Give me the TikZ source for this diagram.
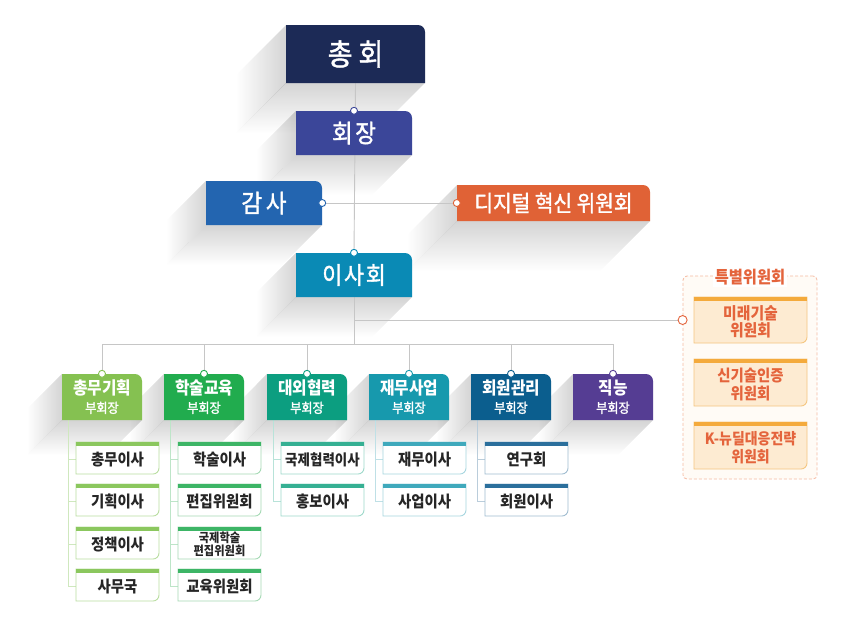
\documentclass[tikz,border=0pt]{standalone}
\usepackage{fontspec}
\newfontfamily\kr[FakeStretch=0.9]{Noto Sans CJK KR}
\newfontfamily\krm[FakeStretch=0.9, FakeBold=1.5]{Noto Sans CJK KR}
\usetikzlibrary{fadings}
\tikzfading[name=fadeS, top color=transparent!0, bottom color=transparent!100]
\tikzfading[name=fadeW, left color=transparent!100, right color=transparent!0]
\pgfdeclarelayer{back}\pgfdeclarelayer{shadow}\pgfdeclarelayer{lines}
\pgfsetlayers{back,shadow,lines,main}
\definecolor{cNavy}{HTML}{1C2A56}
\definecolor{cHj}{HTML}{3B4699}
\definecolor{cGs}{HTML}{2365B0}
\definecolor{cDt}{HTML}{E06236}
\definecolor{cIs}{HTML}{0A8AB5}
\definecolor{cG1}{HTML}{85C151}
\definecolor{cG2}{HTML}{21AC4E}
\definecolor{cG3}{HTML}{0C9E80}
\definecolor{cG4}{HTML}{1799AD}
\definecolor{cG5}{HTML}{0B5E8E}
\definecolor{cG6}{HTML}{553D93}
\definecolor{tG1}{HTML}{8BC75E}
\definecolor{tG2}{HTML}{3DB566}
\definecolor{tG3}{HTML}{35B093}
\definecolor{tG4}{HTML}{3FA9BC}
\definecolor{tG5}{HTML}{2B6F9C}
\definecolor{bG1}{HTML}{B9DDA0}
\definecolor{bG2}{HTML}{A5DAB5}
\definecolor{bG3}{HTML}{9ED9CB}
\definecolor{bG4}{HTML}{A6D6DF}
\definecolor{bG5}{HTML}{9FBCD0}
\definecolor{lG1}{HTML}{CFE8BE}
\definecolor{lG2}{HTML}{BDE5C8}
\definecolor{lG3}{HTML}{B8E3D9}
\definecolor{lG4}{HTML}{BFE0E6}
\definecolor{lG5}{HTML}{BACDDB}
\definecolor{cLine}{HTML}{C6C6C6}
\definecolor{spOrange}{HTML}{E4643C}
\definecolor{spFill}{HTML}{FDEBD2}
\definecolor{spBar}{HTML}{F4AA3C}
\definecolor{spBorder}{HTML}{F5C680}
\definecolor{spDash}{HTML}{F6BBA3}
\definecolor{spBg}{HTML}{FFFBF6}
\tikzset{
  conn/.style={draw=cLine, line width=0.9pt},
  dotmark/.style={fill=white, draw=#1, line width=0.9pt},
  subtext/.style={font=\kr\bfseries\fontsize{16}{17}\selectfont, text=black!85},
}
\newcommand\orgbox[9]{%
  \begin{pgfonlayer}{shadow}
    \fill[black, opacity=0.17, path fading=fadeW] (#3,-#4) -- (#3,-#6) -- (#3-#7,-#6-#7) -- (#3-#7,-#4-#7) -- cycle;
    \fill[black, opacity=0.17, path fading=fadeS] (#3,-#6) -- (#5,-#6) -- (#5-#7,-#6-#7) -- (#3-#7,-#6-#7) -- cycle;
  \end{pgfonlayer}
  \fill[#2] (#3,-#6) -- (#3,-#4) -- (#5-7,-#4) arc[start angle=90, end angle=0, radius=7] -- (#5,-#6) -- cycle;
  \node[font=#8, text=white, align=center, inner sep=0pt,
        minimum width={(#5-#3)*1pt}, minimum height={(#6-#4)*1pt}] (#1) at ({(#3+#5)/2},{-(#4+#6)/2}) {#9};
}
\newcommand\subbox[7]{%
  \filldraw[fill=white, draw=#3, line width=0.9pt] (#4,-#5) -- (#4+83,-#5) -- (#4+83,-#5-26) arc[start angle=0, end angle=-90, radius=6] -- (#4,-#5-32) -- cycle;
  \fill[#2] (#4-0.45,-#5+0.45) rectangle (#4+83.45,-#5-3.5);
  \node[#6, align=center, inner sep=0pt, minimum width=83pt, minimum height=30pt] (#1) at (#4+41.5,-#5-17.5) {#7};
}
\newcommand\spbox[5]{%
  \filldraw[fill=spFill, draw=spBorder, line width=0.9pt] (694,-#2) -- (807,-#2) -- (807,-#3+6) arc[start angle=0, end angle=-90, radius=6] -- (694,-#3) -- cycle;
  \fill[spBar] (693.55,-#2+0.45) rectangle (807.45,-#2-4);
  \node[font=\kr\bfseries\fontsize{#4}{17.5}\selectfont, text=spOrange, align=center, inner sep=0pt,
        minimum width=113pt, minimum height={(#3-#2-4)*1pt}] (#1) at (750.5,{-(#2+#3+4)/2}) {#5};
}
\begin{document}
\begin{tikzpicture}[x=1pt, y=1pt]
\begin{pgfonlayer}{back}
  \fill[white] (0,0) rectangle (850,-630);
\end{pgfonlayer}
\useasboundingbox (0,0) rectangle (850,-630);

% special committee frame
\node[draw=spDash, dashed, dash pattern=on 3pt off 2pt, fill=spBg, rounded corners=4pt, line width=0.8pt,
      minimum width=134pt, minimum height=203pt, inner sep=0pt] (sp) at (750,-377.5) {};
\node[fill=white, inner sep=2pt, text=spOrange, font=\kr\bfseries\fontsize{17}{18}\selectfont] (spt) at (750,-277) {특별위원회};
\spbox{sp1}{297}{343}{16.5}{미래기술\\위원회}
\spbox{sp2}{359}{406}{16}{신기술인증\\위원회}
\spbox{sp3}{422}{469}{15.5}{K-뉴딜대응전략\\위원회}

% top boxes
\orgbox{zh}{cNavy}{286}{25}{425}{83}{50}{\krm\fontsize{30}{31}\selectfont}{총\hspace{.2em}회}
\orgbox{hj}{cHj}{296}{111}{412}{155}{40}{\krm\fontsize{25}{27}\selectfont}{회\hspace{.1em}장}
\orgbox{gs}{cGs}{206}{181}{322}{225}{40}{\krm\fontsize{25}{27}\selectfont}{감\hspace{.15em}사}
\orgbox{dt}{cDt}{457}{185}{650}{221}{50}{\krm\fontsize{22.5}{24}\selectfont}{디지털 혁신 위원회}
\orgbox{ish}{cIs}{296}{253}{412}{297}{40}{\krm\fontsize{24}{26}\selectfont}{이\hspace{.08em}사\hspace{.08em}회}

% group boxes
\newcommand\gfont{\kr\bfseries\fontsize{17.5}{18}\selectfont}
\newcommand\vp{{\krm\mdseries\fontsize{13.5}{14}\selectfont 부회장}}
\orgbox{g1}{cG1}{62}{374}{142}{420}{35}{\gfont}{총무기획\\\vp}
\orgbox{g2}{cG2}{164}{374}{244}{420}{35}{\gfont}{학술교육\\\vp}
\orgbox{g3}{cG3}{267}{374}{347}{420}{35}{\gfont}{대외협력\\\vp}
\orgbox{g4}{cG4}{369}{374}{449}{420}{35}{\gfont}{재무사업\\\vp}
\orgbox{g5}{cG5}{471}{374}{551}{420}{35}{\gfont}{회원관리\\\vp}
\orgbox{g6}{cG6}{573}{374}{653}{420}{35}{\gfont}{직능\\\vp}

% sub boxes
\subbox{s11}{tG1}{bG1}{76}{442}{subtext}{총무이사}
\subbox{s12}{tG1}{bG1}{76}{484}{subtext}{기획이사}
\subbox{s13}{tG1}{bG1}{76}{527}{subtext}{정책이사}
\subbox{s14}{tG1}{bG1}{76}{569}{subtext}{사무국}
\subbox{s21}{tG2}{bG2}{178}{442}{subtext}{학술이사}
\subbox{s22}{tG2}{bG2}{178}{484}{subtext}{편집위원회}
\subbox{s23}{tG2}{bG2}{178}{527}{font=\kr\bfseries\fontsize{12.5}{12.5}\selectfont, text=black!85}{국제학술\\편집위원회}
\subbox{s24}{tG2}{bG2}{178}{569}{subtext}{교육위원회}
\subbox{s31}{tG3}{bG3}{281}{442}{font=\kr\bfseries\fontsize{15}{17}\selectfont, text=black!85}{국제협력이사}
\subbox{s32}{tG3}{bG3}{281}{484}{subtext}{홍보이사}
\subbox{s41}{tG4}{bG4}{383}{442}{subtext}{재무이사}
\subbox{s42}{tG4}{bG4}{383}{484}{subtext}{사업이사}
\subbox{s51}{tG5}{bG5}{485}{442}{subtext}{연구회}
\subbox{s52}{tG5}{bG5}{485}{484}{subtext}{회원이사}

% connectors
\coordinate (j1) at (354,-320);
\coordinate (j2) at (354,-344);
\begin{pgfonlayer}{lines}
  \draw[conn] (zh.south) -- (ish.north);
  \draw[conn] (gs.east) -- (dt.west);
  \draw[conn] (ish.south) -- (j2);
  \draw[conn] (j1) -- (sp.west |- j1);
  \draw[conn] (g1.north |- j2) -- (g6.north |- j2);
  \foreach \g in {g1,g2,g3,g4,g5,g6} { \draw[conn] (\g.north |- j2) -- (\g.north); }
  \draw[lG1, line width=0.9pt] ([xshift=7pt]g1.south west) |- (s14.west);
  \foreach \s in {s11,s12,s13} { \draw[lG1, line width=0.9pt] ([xshift=7pt]g1.south west |- \s.west) -- (\s.west); }
  \draw[lG2, line width=0.9pt] ([xshift=7pt]g2.south west) |- (s24.west);
  \foreach \s in {s21,s22,s23} { \draw[lG2, line width=0.9pt] ([xshift=7pt]g2.south west |- \s.west) -- (\s.west); }
  \draw[lG3, line width=0.9pt] ([xshift=7pt]g3.south west) |- (s32.west);
  \draw[lG3, line width=0.9pt] ([xshift=7pt]g3.south west |- s31.west) -- (s31.west);
  \draw[lG4, line width=0.9pt] ([xshift=7pt]g4.south west) |- (s42.west);
  \draw[lG4, line width=0.9pt] ([xshift=7pt]g4.south west |- s41.west) -- (s41.west);
  \draw[lG5, line width=0.9pt] ([xshift=7pt]g5.south west) |- (s52.west);
  \draw[lG5, line width=0.9pt] ([xshift=7pt]g5.south west |- s51.west) -- (s51.west);
\end{pgfonlayer}

% connection dots
\draw[dotmark=cHj] (hj.north) circle[radius=3.5];
\draw[dotmark=cIs] (ish.north) circle[radius=3.5];
\draw[dotmark=cGs] (gs.east) circle[radius=3.5];
\draw[dotmark=cDt] (dt.west) circle[radius=3.5];
\draw[dotmark=spOrange] (sp.west |- j1) circle[radius=4.5];
\draw[dotmark=cG1] (g1.north) circle[radius=3.5];
\draw[dotmark=cG2] (g2.north) circle[radius=3.5];
\draw[dotmark=cG3] (g3.north) circle[radius=3.5];
\draw[dotmark=cG4] (g4.north) circle[radius=3.5];
\draw[dotmark=cG5] (g5.north) circle[radius=3.5];
\draw[dotmark=cG6] (g6.north) circle[radius=3.5];
\end{tikzpicture}
\end{document}
